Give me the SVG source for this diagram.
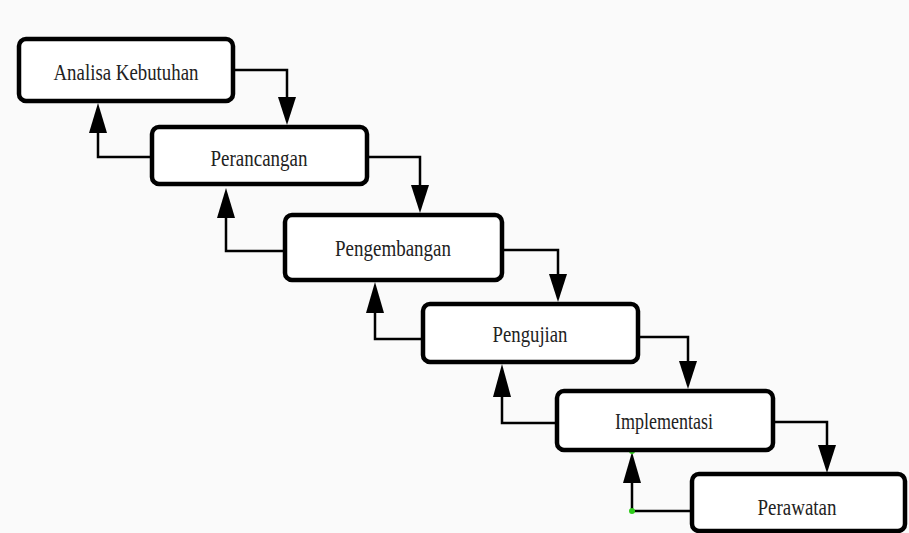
<svg xmlns="http://www.w3.org/2000/svg" width="909" height="533" viewBox="0 0 909 533">
<style>
.box{fill:#fff;stroke:#000;stroke-width:4.5}
.lbl{font-family:"Liberation Serif","DejaVu Serif",serif;font-size:23px;fill:#222;text-anchor:middle}
.ln{fill:none;stroke:#000;stroke-width:2.5}
.hd{fill:#000}
.dot{fill:#2ecc1a}
</style>
<rect x="0" y="0" width="909" height="533" fill="#fafafa"/>
<g id="connectors">
<polyline class="ln" points="233,70 287,70 287,100"/>
<polygon class="hd" points="278,97 296,97 287,125"/>
<polyline class="ln" points="367,157 420,157 420,188"/>
<polygon class="hd" points="411,185 429,185 420,213"/>
<polyline class="ln" points="502,250 558,250 558,277"/>
<polygon class="hd" points="549,274 567,274 558,302"/>
<polyline class="ln" points="638,337 688,337 688,364"/>
<polygon class="hd" points="679,361 697,361 688,389"/>
<polyline class="ln" points="773,422 827,422 827,448"/>
<polygon class="hd" points="818,445 836,445 827,473"/>
<polyline class="ln" points="152,157 98,157 98,130"/>
<polygon class="hd" points="89,133 107,133 98,103"/>
<polyline class="ln" points="285,251 226,251 226,215"/>
<polygon class="hd" points="217,218 235,218 226,188"/>
<polyline class="ln" points="423,339 375,339 375,310"/>
<polygon class="hd" points="366,313 384,313 375,282"/>
<polyline class="ln" points="557,423 502,423 502,395"/>
<polygon class="hd" points="493,397 511,397 502,364"/>
<polyline class="ln" points="692,511 632,511 632,480"/>
<polygon class="hd" points="623,483 641,483 632,452"/>
<circle class="dot" cx="632" cy="451" r="3"/>
<circle class="dot" cx="632" cy="511" r="3"/>
</g>
<g id="n1"><rect class="box" x="19" y="39" width="214" height="62" rx="7"/><text class="lbl" x="126" y="80" textLength="145" lengthAdjust="spacingAndGlyphs">Analisa Kebutuhan</text></g>
<g id="n2"><rect class="box" x="152" y="127" width="215" height="57" rx="7"/><text class="lbl" x="259" y="166" textLength="97" lengthAdjust="spacingAndGlyphs">Perancangan</text></g>
<g id="n3"><rect class="box" x="285" y="215" width="217" height="65" rx="7"/><text class="lbl" x="393" y="256" textLength="116" lengthAdjust="spacingAndGlyphs">Pengembangan</text></g>
<g id="n4"><rect class="box" x="423" y="304" width="215" height="58" rx="7"/><text class="lbl" x="530" y="342" textLength="75" lengthAdjust="spacingAndGlyphs">Pengujian</text></g>
<g id="n5"><rect class="box" x="557" y="391" width="216" height="59" rx="7"/><text class="lbl" x="664" y="429" textLength="98" lengthAdjust="spacingAndGlyphs">Implementasi</text></g>
<g id="n6"><rect class="box" x="692" y="474" width="213" height="57" rx="7"/><text class="lbl" x="797" y="515" textLength="79" lengthAdjust="spacingAndGlyphs">Perawatan</text></g>
</svg>
